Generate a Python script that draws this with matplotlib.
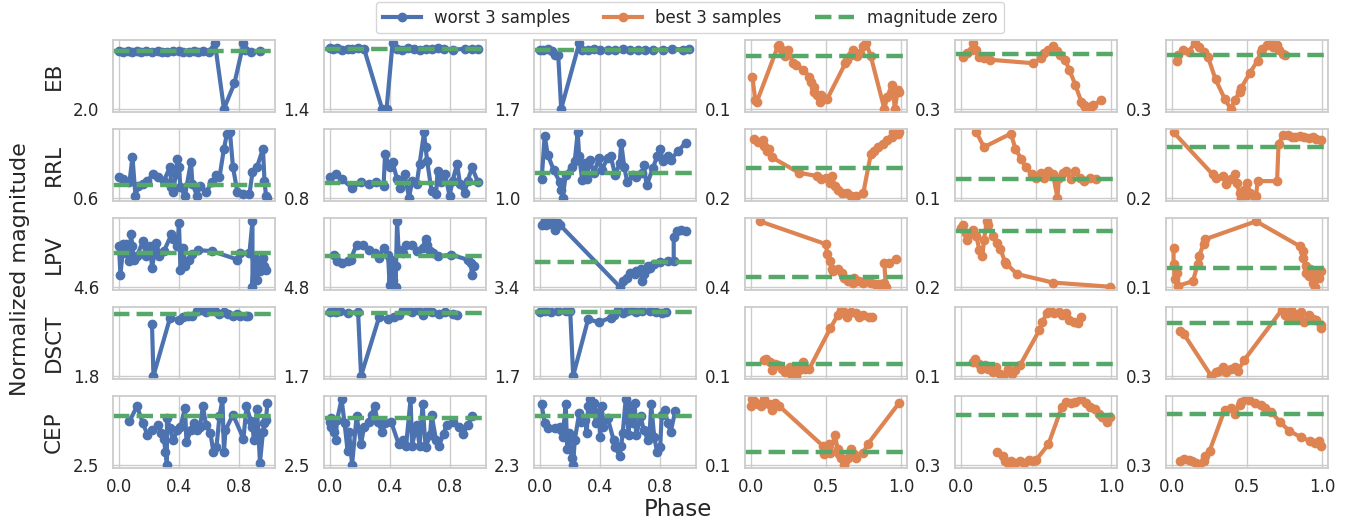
import matplotlib
matplotlib.use("Agg")
import matplotlib.pyplot as plt
from matplotlib.ticker import FormatStrFormatter
from matplotlib.lines import Line2D

# ---- EB ----
eb_w1_phase = [0.00, 0.03, 0.06, 0.09, 0.12, 0.15, 0.18, 0.22, 0.26, 0.29, 0.32, 0.36, 0.40, 0.43, 0.47, 0.50, 0.53, 0.56, 0.60, 0.64, 0.70, 0.77, 0.83, 0.84, 0.88, 0.94]
eb_w1_mag = [0.00, 0.02, -0.01, 0.03, 0.00, 0.01, -0.02, 0.02, 0.00, 0.01, 0.03, -0.01, 0.00, 0.02, 0.01, -0.01, 0.02, 0.00, 0.01, -0.28, 2.00, 1.11, -0.28, -0.05, 0.02, 0.00]
eb_w2_phase = [0.00, 0.02, 0.05, 0.08, 0.12, 0.15, 0.19, 0.23, 0.35, 0.38, 0.42, 0.45, 0.48, 0.52, 0.56, 0.60, 0.64, 0.68, 0.72, 0.76, 0.82, 0.90, 0.95, 0.99]
eb_w2_mag = [-0.02, 0.01, -0.01, 0.02, 0.00, 0.01, -0.01, 0.00, 1.40, 1.40, -0.13, 0.00, 0.02, -0.01, 0.00, 0.02, 0.00, 0.01, -0.01, 0.00, 0.02, 0.00, 0.01, 0.00]
eb_w3_phase = [0.00, 0.02, 0.05, 0.08, 0.10, 0.12, 0.14, 0.26, 0.28, 0.32, 0.36, 0.40, 0.45, 0.50, 0.55, 0.60, 0.65, 0.70, 0.75, 0.82, 0.88, 0.95, 0.99]
eb_w3_mag = [0.00, 0.01, -0.01, 0.05, 0.15, 0.15, 1.70, -0.18, 0.00, 0.01, -0.01, 0.00, 0.01, 0.00, -0.01, 0.01, 0.00, 0.00, 0.01, 0.00, -0.02, 0.00, -0.02]
eb_b1_phase = [0.01, 0.03, 0.04, 0.18, 0.19, 0.21, 0.23, 0.25, 0.28, 0.30, 0.35, 0.39, 0.40, 0.42, 0.42, 0.44, 0.46, 0.47, 0.51, 0.63, 0.64, 0.67, 0.68, 0.71, 0.73, 0.75, 0.77, 0.80, 0.89, 0.91, 0.94, 0.95, 0.96, 0.98, 0.99]
eb_b1_mag = [0.038, 0.083, 0.086, -0.019, -0.022, -0.013, 0.000, -0.013, 0.013, 0.016, 0.025, 0.038, 0.048, 0.057, 0.067, 0.073, 0.086, 0.073, 0.080, 0.013, 0.006, -0.003, -0.013, 0.000, -0.006, -0.019, -0.025, 0.000, 0.099, 0.076, 0.054, 0.070, 0.099, 0.064, 0.067]
eb_b2_phase = [0.01, 0.04, 0.07, 0.08, 0.10, 0.12, 0.15, 0.19, 0.48, 0.53, 0.55, 0.58, 0.61, 0.64, 0.66, 0.69, 0.72, 0.76, 0.80, 0.82, 0.83, 0.84, 0.86, 0.87, 0.88, 0.93]
eb_b2_mag = [0.014, -0.005, -0.023, -0.058, -0.023, 0.014, 0.022, 0.031, 0.050, 0.022, -0.005, -0.023, -0.042, -0.014, 0.004, 0.031, 0.086, 0.169, 0.260, 0.278, 0.296, 0.286, 0.290, 0.280, 0.278, 0.250]
eb_b3_phase = [0.03, 0.04, 0.07, 0.11, 0.15, 0.18, 0.21, 0.24, 0.29, 0.35, 0.39, 0.42, 0.45, 0.46, 0.52, 0.57, 0.59, 0.60, 0.63, 0.66, 0.67, 0.70, 0.71, 0.74, 0.75]
eb_b3_mag = [0.032, 0.004, -0.025, -0.015, -0.063, -0.044, -0.015, 0.013, 0.135, 0.240, 0.296, 0.249, 0.202, 0.183, 0.098, 0.032, -0.015, -0.034, -0.053, -0.063, -0.044, -0.053, -0.025, -0.006, 0.004]

# ---- RRL ----
rrl_w1_phase = [0.00, 0.03, 0.07, 0.09, 0.11, 0.13, 0.16, 0.19, 0.23, 0.26, 0.30, 0.34, 0.35, 0.36, 0.38, 0.39, 0.40, 0.41, 0.44, 0.48, 0.49, 0.52, 0.54, 0.58, 0.62, 0.65, 0.67, 0.70, 0.72, 0.74, 0.76, 0.79, 0.83, 0.87, 0.89, 0.92, 0.96, 0.97, 0.98, 0.99]
rrl_w1_mag = [-0.36, -0.28, -0.13, -1.31, 0.50, 0.03, -0.05, -0.21, -0.52, -0.36, -0.21, -0.84, 0.11, 0.35, -0.52, -1.23, -0.84, 0.11, 0.50, -1.08, -0.05, 0.50, 0.03, 0.35, -0.13, -0.45, -0.36, -1.71, -2.42, -2.48, -0.84, 0.35, 0.43, 0.43, -0.60, -0.84, -1.71, -0.21, 0.50, 0.60]
rrl_w2_phase = [0.00, 0.04, 0.08, 0.15, 0.21, 0.26, 0.31, 0.36, 0.37, 0.40, 0.42, 0.45, 0.47, 0.50, 0.53, 0.55, 0.58, 0.60, 0.63, 0.64, 0.65, 0.68, 0.71, 0.72, 0.74, 0.77, 0.80, 0.82, 0.85, 0.87, 0.90, 0.92, 0.95, 0.99]
rrl_w2_mag = [-0.31, -0.52, -0.22, 0.24, -0.04, 0.06, -0.04, 0.14, -1.58, -0.85, -1.13, -0.22, 0.24, -0.49, 0.78, -0.13, 0.06, -1.03, -2.74, -1.94, -1.22, 0.42, 0.60, -0.67, -0.04, -0.49, 0.69, -0.13, -1.03, 0.06, 0.51, -0.13, -0.85, -0.04]
rrl_w3_phase = [0.01, 0.03, 0.05, 0.09, 0.13, 0.14, 0.15, 0.17, 0.21, 0.23, 0.25, 0.26, 0.28, 0.30, 0.31, 0.33, 0.36, 0.39, 0.41, 0.45, 0.47, 0.50, 0.53, 0.54, 0.56, 0.58, 0.62, 0.64, 0.68, 0.69, 0.71, 0.75, 0.78, 0.80, 0.82, 0.85, 0.87, 0.92, 0.97]
rrl_w3_mag = [0.21, -1.55, -0.78, -0.14, 0.35, 0.70, 1.00, 0.07, -0.28, -0.50, -1.70, -0.71, 0.28, -0.42, 0.21, -0.57, 0.00, -0.64, -0.14, -0.64, -0.71, 0.07, -0.42, -1.27, -0.28, 0.35, 0.07, 0.14, 0.00, -0.35, 0.49, -0.21, -0.71, -0.99, -0.50, -0.71, -0.57, -0.93, -1.27]
rrl_b1_phase = [0.02, 0.05, 0.08, 0.09, 0.11, 0.12, 0.14, 0.32, 0.44, 0.47, 0.50, 0.53, 0.54, 0.56, 0.58, 0.61, 0.64, 0.67, 0.68, 0.70, 0.75, 0.80, 0.82, 0.85, 0.88, 0.91, 0.94, 0.95, 0.98, 0.99]
rrl_b1_mag = [-0.191, -0.169, -0.180, -0.146, -0.112, -0.123, -0.068, 0.034, 0.056, 0.078, 0.067, 0.100, 0.056, 0.124, 0.146, 0.168, 0.168, 0.191, 0.200, 0.191, 0.168, -0.090, -0.112, -0.135, -0.157, -0.180, -0.202, -0.234, -0.225, -0.234]
rrl_b2_phase = [0.10, 0.15, 0.33, 0.36, 0.40, 0.43, 0.47, 0.50, 0.53, 0.55, 0.58, 0.61, 0.64, 0.65, 0.68, 0.70, 0.73, 0.76, 0.79, 0.82, 0.86, 0.90]
rrl_b2_mag = [-0.257, -0.176, -0.250, -0.166, -0.110, -0.065, -0.028, -0.009, -0.035, -0.009, -0.046, -0.028, 0.100, -0.009, -0.035, -0.046, 0.000, -0.046, -0.009, 0.010, -0.009, 0.000]
rrl_b3_phase = [0.01, 0.27, 0.29, 0.34, 0.36, 0.39, 0.42, 0.43, 0.45, 0.46, 0.48, 0.49, 0.50, 0.52, 0.55, 0.56, 0.57, 0.70, 0.71, 0.74, 0.77, 0.80, 0.82, 0.85, 0.88, 0.91, 0.94, 0.96, 0.99]
rrl_b3_mag = [-0.056, 0.108, 0.122, 0.115, 0.148, 0.128, 0.108, 0.142, 0.181, 0.200, 0.168, 0.194, 0.142, 0.181, 0.200, 0.194, 0.135, 0.135, -0.011, -0.044, -0.044, -0.037, -0.037, -0.040, -0.037, -0.034, -0.037, -0.031, -0.024]

# ---- LPV ----
lpv_w1_phase = [0.00, 0.01, 0.03, 0.04, 0.05, 0.07, 0.08, 0.09, 0.10, 0.12, 0.16, 0.18, 0.21, 0.22, 0.25, 0.27, 0.30, 0.35, 0.36, 0.39, 0.40, 0.41, 0.43, 0.44, 0.47, 0.49, 0.53, 0.62, 0.79, 0.81, 0.87, 0.89, 0.89, 0.90, 0.92, 0.93, 0.94, 0.96, 0.97, 0.98]
lpv_w1_mag = [-0.91, 2.96, -1.14, 0.00, -1.14, 1.14, -2.50, -0.91, 0.91, 0.45, -1.59, 0.45, -0.91, 2.05, -1.37, 0.45, -0.23, -2.50, -1.82, -0.91, -4.10, 2.28, -0.68, 1.82, 0.91, 0.14, -0.36, -0.23, 0.91, 0.00, 0.00, -4.28, 4.60, 0.45, 3.64, 1.37, 2.50, 0.68, 1.82, 2.28]
lpv_w2_phase = [0.03, 0.05, 0.08, 0.12, 0.14, 0.18, 0.22, 0.26, 0.30, 0.33, 0.36, 0.39, 0.40, 0.41, 0.42, 0.44, 0.44, 0.45, 0.46, 0.49, 0.51, 0.55, 0.58, 0.62, 0.64, 0.65, 0.67, 0.69, 0.72, 0.81, 0.92, 0.94, 0.95, 0.96]
lpv_w2_mag = [-0.15, 0.88, 1.14, 0.88, 0.62, -1.70, -1.70, -0.93, -0.41, 0.37, -1.19, -0.15, 4.49, 0.62, 3.71, 1.65, 4.75, -5.26, -0.93, -0.41, -1.70, -1.70, -0.67, -1.19, -2.57, -1.70, -0.67, -0.41, 0.11, -0.15, 0.62, 1.14, 2.94, 1.65]
lpv_w3_phase = [0.01, 0.03, 0.04, 0.05, 0.08, 0.09, 0.10, 0.12, 0.13, 0.53, 0.55, 0.58, 0.60, 0.63, 0.64, 0.67, 0.68, 0.69, 0.71, 0.72, 0.73, 0.76, 0.80, 0.85, 0.89, 0.89, 0.91, 0.94, 0.97]
lpv_w3_mag = [-5.27, -5.75, -5.27, -5.51, -5.75, -5.03, -4.55, -5.51, -5.27, 3.40, 2.63, 2.16, 1.44, 1.67, 1.20, 0.95, 2.63, 1.67, 0.95, 0.48, 0.72, 0.22, 0.00, -0.24, -0.24, -3.60, -4.32, -4.55, -4.32]
lpv_b1_phase = [0.06, 0.50, 0.51, 0.53, 0.54, 0.55, 0.58, 0.61, 0.62, 0.65, 0.68, 0.69, 0.72, 0.75, 0.78, 0.80, 0.83, 0.86, 0.87, 0.89, 0.90, 0.89, 0.92, 0.97]
lpv_b1_mag = [-2.29, -1.35, -0.94, -0.66, -0.32, -0.25, -0.32, -0.18, 0.03, 0.17, 0.24, 0.03, 0.17, 0.24, 0.17, 0.24, 0.30, 0.30, 0.37, 0.24, 0.40, -0.59, -0.59, -0.73]
lpv_b2_phase = [0.00, 0.01, 0.03, 0.04, 0.07, 0.08, 0.10, 0.12, 0.14, 0.15, 0.17, 0.18, 0.21, 0.24, 0.26, 0.29, 0.30, 0.37, 0.61, 0.99]
lpv_b2_mag = [-0.012, -0.025, 0.006, 0.031, 0.006, -0.006, 0.018, 0.068, 0.087, 0.031, -0.037, -0.025, 0.018, 0.043, 0.062, 0.111, 0.117, 0.154, 0.185, 0.200]
lpv_b3_phase = [0.01, 0.01, 0.02, 0.03, 0.04, 0.14, 0.17, 0.18, 0.21, 0.22, 0.56, 0.85, 0.87, 0.87, 0.89, 0.89, 0.91, 0.92, 0.94, 0.95, 0.96, 0.98, 0.99]
lpv_b3_mag = [-0.113, -0.022, 0.060, 0.024, 0.096, 0.069, -0.022, -0.067, -0.131, -0.158, -0.256, -0.121, -0.094, -0.058, -0.013, 0.024, 0.042, 0.006, 0.078, 0.100, 0.024, 0.051, 0.015]

# ---- DSCT ----
dsct_w1_phase = [0.22, 0.23, 0.34, 0.40, 0.43, 0.46, 0.49, 0.52, 0.55, 0.58, 0.61, 0.64, 0.67, 0.70, 0.73, 0.76, 0.79, 0.81, 0.85, 0.86]
dsct_w1_mag = [0.28, 1.80, 0.12, 0.18, 0.10, 0.05, 0.05, -0.08, -0.11, -0.05, -0.11, -0.08, 0.00, -0.05, 0.00, 0.05, 0.00, 0.05, 0.05, 0.07]
dsct_w2_phase = [0.00, 0.02, 0.04, 0.07, 0.12, 0.19, 0.21, 0.33, 0.39, 0.43, 0.46, 0.49, 0.52, 0.55, 0.59, 0.62, 0.65, 0.68, 0.73, 0.77, 0.82, 0.85]
dsct_w2_mag = [-0.02, -0.05, -0.02, -0.05, 0.00, -0.02, 1.70, 0.12, 0.17, 0.10, 0.05, -0.07, -0.07, -0.02, -0.07, 0.05, -0.07, -0.02, 0.03, -0.02, 0.03, 0.05]
dsct_w3_phase = [0.00, 0.03, 0.07, 0.12, 0.17, 0.20, 0.22, 0.32, 0.39, 0.47, 0.49, 0.52, 0.55, 0.58, 0.61, 0.64, 0.68, 0.73, 0.77, 0.81, 0.84]
dsct_w3_mag = [0.00, -0.04, 0.00, -0.04, -0.04, -0.04, 1.70, 0.18, 0.27, 0.14, 0.08, -0.055, 0.02, -0.04, -0.055, 0.00, -0.04, -0.04, 0.00, 0.03, 0.00]
dsct_b1_phase = [0.09, 0.10, 0.13, 0.14, 0.16, 0.18, 0.21, 0.23, 0.26, 0.27, 0.28, 0.30, 0.32, 0.35, 0.36, 0.39, 0.53, 0.58, 0.60, 0.62, 0.64, 0.67, 0.70, 0.72, 0.75, 0.79, 0.81]
dsct_b1_mag = [-0.036, -0.051, -0.021, 0.053, -0.006, 0.009, 0.038, 0.068, 0.024, 0.083, 0.038, 0.100, 0.053, -0.021, 0.038, 0.038, -0.316, -0.434, -0.475, -0.463, -0.419, -0.463, -0.449, -0.419, -0.434, -0.419, -0.419]
dsct_b2_phase = [0.08, 0.09, 0.12, 0.13, 0.16, 0.18, 0.21, 0.23, 0.26, 0.28, 0.31, 0.34, 0.36, 0.39, 0.52, 0.54, 0.57, 0.59, 0.62, 0.65, 0.67, 0.70, 0.72, 0.75, 0.78, 0.80]
dsct_b2_mag = [-0.021, -0.051, -0.006, 0.038, 0.009, 0.038, 0.068, 0.024, 0.083, 0.100, 0.038, 0.083, 0.053, 0.009, -0.301, -0.375, -0.449, -0.475, -0.449, -0.463, -0.434, -0.449, -0.389, -0.375, -0.360, -0.419]
dsct_b3_phase = [0.05, 0.08, 0.26, 0.29, 0.31, 0.34, 0.36, 0.39, 0.42, 0.44, 0.48, 0.73, 0.75, 0.78, 0.79, 0.82, 0.83, 0.86, 0.88, 0.91, 0.94, 0.96, 0.99, 0.99]
dsct_b3_mag = [0.043, 0.063, 0.298, 0.279, 0.269, 0.249, 0.279, 0.259, 0.249, 0.269, 0.210, -0.074, -0.045, -0.025, -0.074, -0.054, -0.035, -0.064, -0.006, -0.045, -0.025, -0.016, 0.024, 0.010]

# ---- CEP ----
cep_w1_phase = [0.07, 0.12, 0.16, 0.19, 0.22, 0.26, 0.28, 0.30, 0.31, 0.32, 0.32, 0.34, 0.36, 0.39, 0.41, 0.44, 0.45, 0.48, 0.50, 0.52, 0.54, 0.56, 0.58, 0.61, 0.63, 0.65, 0.67, 0.69, 0.70, 0.71, 0.76, 0.83, 0.85, 0.88, 0.89, 0.90, 0.92, 0.93, 0.94, 0.96, 0.97, 0.98, 0.99]
cep_w1_mag = [0.26, -0.53, 0.35, 0.97, 0.71, 0.44, 0.88, 1.15, 1.86, 2.50, 0.08, 0.62, 1.24, 0.71, 0.53, -0.44, 1.32, 0.71, 0.35, 0.71, 0.53, -0.53, 0.44, 0.88, 1.86, 1.59, 0.00, -0.89, 1.86, 0.71, -0.09, 1.15, -0.53, 0.26, 0.53, 1.24, -0.36, 0.88, 2.39, 0.80, 0.35, 0.17, -0.71]
cep_w2_phase = [0.00, 0.01, 0.01, 0.03, 0.04, 0.05, 0.08, 0.10, 0.12, 0.13, 0.15, 0.18, 0.21, 0.23, 0.26, 0.28, 0.30, 0.32, 0.35, 0.37, 0.41, 0.46, 0.49, 0.51, 0.54, 0.55, 0.58, 0.60, 0.62, 0.64, 0.67, 0.68, 0.71, 0.73, 0.76, 0.78, 0.82, 0.86, 0.89, 0.92, 0.95]
cep_w2_mag = [0.18, 0.46, 0.00, 0.73, 1.19, 0.09, -1.02, 0.27, 1.75, 0.73, 2.50, -0.10, 1.38, 0.46, 0.18, -0.19, -0.65, 0.18, 0.73, 0.27, 0.18, 1.38, 1.19, 1.47, -1.02, 1.47, 0.36, 1.47, -0.74, 1.56, 0.92, -0.19, 1.19, 1.47, 0.83, 0.36, 0.18, 0.46, 0.83, 0.36, -0.10]
cep_w3_phase = [0.01, 0.03, 0.05, 0.10, 0.13, 0.14, 0.15, 0.17, 0.18, 0.19, 0.21, 0.22, 0.23, 0.26, 0.27, 0.30, 0.31, 0.32, 0.33, 0.35, 0.36, 0.37, 0.39, 0.40, 0.41, 0.42, 0.45, 0.49, 0.50, 0.53, 0.54, 0.55, 0.57, 0.59, 0.60, 0.62, 0.63, 0.64, 0.67, 0.69, 0.72, 0.73, 0.74, 0.76, 0.78, 0.80, 0.81, 0.83, 0.85, 0.87, 0.90]
cep_w3_mag = [-0.57, 0.33, 0.57, 0.57, 0.49, 0.65, 0.98, -0.57, 1.55, 0.81, 1.96, 2.30, 1.14, -0.16, 0.25, 0.17, 0.81, -0.49, -0.82, -0.33, -0.65, 0.33, -0.16, 0.98, -0.49, 0.49, 0.08, 1.14, 1.47, 1.88, 1.39, 0.81, -0.82, 0.89, -0.49, 0.33, -0.65, 0.89, 0.00, 0.65, 1.14, 0.73, -0.57, 0.98, 1.71, 1.47, -0.08, -0.33, 0.33, 0.73, -0.25]
cep_b1_phase = [0.00, 0.01, 0.02, 0.05, 0.07, 0.09, 0.12, 0.14, 0.16, 0.19, 0.48, 0.49, 0.50, 0.52, 0.53, 0.56, 0.58, 0.59, 0.60, 0.62, 0.63, 0.65, 0.67, 0.69, 0.70, 0.75, 0.78, 0.99]
cep_b1_mag = [-0.323, -0.371, -0.359, -0.335, -0.323, -0.371, -0.335, -0.298, -0.347, -0.323, -0.043, 0.018, -0.019, -0.056, 0.005, -0.116, -0.019, 0.018, 0.042, 0.090, 0.066, 0.042, -0.019, 0.018, 0.042, 0.005, -0.056, -0.347]
cep_b2_phase = [0.24, 0.28, 0.29, 0.32, 0.33, 0.36, 0.39, 0.42, 0.45, 0.48, 0.50, 0.58, 0.67, 0.70, 0.73, 0.76, 0.80, 0.83, 0.86, 0.89, 0.92, 0.94, 0.97, 0.99]
cep_b2_mag = [0.217, 0.242, 0.272, 0.292, 0.272, 0.282, 0.272, 0.282, 0.262, 0.272, 0.262, 0.171, -0.051, -0.081, -0.071, -0.081, -0.095, -0.071, -0.051, -0.040, -0.010, 0.010, 0.040, 0.010]
cep_b3_phase = [0.05, 0.08, 0.11, 0.13, 0.16, 0.18, 0.21, 0.22, 0.25, 0.35, 0.39, 0.42, 0.45, 0.46, 0.49, 0.51, 0.55, 0.59, 0.62, 0.66, 0.72, 0.78, 0.86, 0.92, 0.95, 0.98, 0.99]
cep_b3_mag = [0.272, 0.259, 0.265, 0.272, 0.282, 0.292, 0.272, 0.243, 0.213, -0.024, -0.034, -0.004, -0.053, -0.073, -0.087, -0.083, -0.063, -0.053, -0.034, -0.014, 0.045, 0.095, 0.134, 0.154, 0.164, 0.154, 0.184]

classes = ["EB", "RRL", "LPV", "DSCT", "CEP"]
worst_ticks = [0.0, 0.4, 0.8]
best_ticks = [0.0, 0.5, 1.0]

BLUE = "#4C72B0"
ORANGE = "#DD8452"
GREEN = "#55A868"
GRID = "#cccccc"
TEXT = "#262626"

panels = [
    [(eb_w1_phase, eb_w1_mag), (eb_w2_phase, eb_w2_mag), (eb_w3_phase, eb_w3_mag),
     (eb_b1_phase, eb_b1_mag), (eb_b2_phase, eb_b2_mag), (eb_b3_phase, eb_b3_mag)],
    [(rrl_w1_phase, rrl_w1_mag), (rrl_w2_phase, rrl_w2_mag), (rrl_w3_phase, rrl_w3_mag),
     (rrl_b1_phase, rrl_b1_mag), (rrl_b2_phase, rrl_b2_mag), (rrl_b3_phase, rrl_b3_mag)],
    [(lpv_w1_phase, lpv_w1_mag), (lpv_w2_phase, lpv_w2_mag), (lpv_w3_phase, lpv_w3_mag),
     (lpv_b1_phase, lpv_b1_mag), (lpv_b2_phase, lpv_b2_mag), (lpv_b3_phase, lpv_b3_mag)],
    [(dsct_w1_phase, dsct_w1_mag), (dsct_w2_phase, dsct_w2_mag), (dsct_w3_phase, dsct_w3_mag),
     (dsct_b1_phase, dsct_b1_mag), (dsct_b2_phase, dsct_b2_mag), (dsct_b3_phase, dsct_b3_mag)],
    [(cep_w1_phase, cep_w1_mag), (cep_w2_phase, cep_w2_mag), (cep_w3_phase, cep_w3_mag),
     (cep_b1_phase, cep_b1_mag), (cep_b2_phase, cep_b2_mag), (cep_b3_phase, cep_b3_mag)],
]

plt.rcParams["font.family"] = "DejaVu Sans"
plt.rcParams["text.color"] = TEXT
plt.rcParams["xtick.color"] = TEXT
plt.rcParams["ytick.color"] = TEXT

fig, axes = plt.subplots(5, 6, figsize=(13.56, 5.23), dpi=100)
fig.subplots_adjust(left=0.0833, right=0.9794, top=0.9235, bottom=0.1052,
                    wspace=0.30, hspace=0.236)

for r, row in enumerate(panels):
    for c, (phase, mag) in enumerate(row):
        ax = axes[r, c]
        color = BLUE if c < 3 else ORANGE
        ax.plot(phase, mag, "-o", color=color, lw=3.0, ms=6)
        ax.axhline(0, color=GREEN, ls="--", lw=3.2)
        ax.set_xlim(-0.04, 1.04)
        ax.invert_yaxis()
        ax.set_yticks([max(mag)])
        ax.yaxis.set_major_formatter(FormatStrFormatter("%.1f"))
        ax.set_xticks(worst_ticks if c < 3 else best_ticks)
        ax.xaxis.set_major_formatter(FormatStrFormatter("%.1f"))
        ax.grid(True, color=GRID, lw=1.0)
        ax.set_axisbelow(True)
        for sp in ax.spines.values():
            sp.set_color(GRID)
            sp.set_linewidth(1.3)
        ax.tick_params(length=0, labelsize=12)
        ax.tick_params(axis="y", pad=10)
        ax.tick_params(axis="x", pad=7)
        if r < 4:
            ax.tick_params(labelbottom=False)

# class names on the left of each row
for r, name in enumerate(classes):
    pos = axes[r, 0].get_position()
    fig.text(54 / 1356, (pos.y0 + pos.y1) / 2, name, rotation=90,
             ha="center", va="center", fontsize=15.5)

fig.text(20 / 1356, 1 - 269 / 523, "Normalized magnitude", rotation=90,
         ha="center", va="center", fontsize=16)
fig.text(0.5, 1 - 510 / 523, "Phase", ha="center", va="center", fontsize=16.5)

handles = [
    Line2D([], [], color=BLUE, lw=3.0, marker="o", ms=6),
    Line2D([], [], color=ORANGE, lw=3.0, marker="o", ms=6),
    Line2D([], [], color=GREEN, lw=3.2, ls="--"),
]
fig.legend(handles, ["worst 3 samples", "best 3 samples", "magnitude zero"],
           loc="upper center", bbox_to_anchor=(690 / 1356, 1 - 2 / 523),
           ncol=3, fontsize=12, handlelength=2.3, handletextpad=0.8,
           columnspacing=2.0, borderaxespad=0, frameon=True,
           edgecolor=GRID, fancybox=True)

fig.savefig("out.png", dpi=100, facecolor="white")
